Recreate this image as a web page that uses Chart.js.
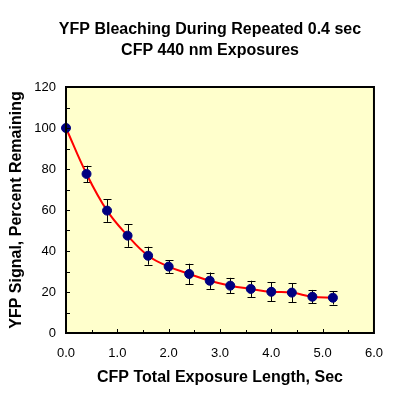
<!DOCTYPE html>
<html>
<head>
<meta charset="utf-8">
<script src="https://cdn.jsdelivr.net/npm/chart.js@4"></script>
<style>
  html,body{margin:0;padding:0;background:#fff}
  #wrap{width:396px;height:396px}
</style>
</head>
<body>
<div id="wrap"><canvas id="chart" width="396" height="396"></canvas></div>
<script>
// data
const exposureSec = [0, 0.4, 0.8, 1.2, 1.6, 2.0, 2.4, 2.8, 3.2, 3.6, 4.0, 4.4, 4.8, 5.2];
const signalPct   = [100, 77.6, 59.7, 47.5, 37.7, 32.4, 28.8, 25.5, 23.1, 21.5, 20.1, 19.7, 17.7, 17.2];
const signalErr   = [0, 4.0, 5.5, 5.5, 4.4, 3.1, 5.0, 4.0, 3.8, 4.0, 4.6, 4.6, 3.3, 3.3];
const titleLines  = ['YFP Bleaching During Repeated 0.4 sec', 'CFP 440 nm Exposures'];
const xTitle = 'CFP Total Exposure Length, Sec';
const yTitle = 'YFP Signal, Percent Remaining';

const FONT = 'Arial, "Liberation Sans", sans-serif';

// yellow plot background + box border + inward tick marks + error bars + title
const plotDecor = {
  id: 'plotDecor',
  beforeDraw(chart){
    const {ctx, chartArea:a} = chart;
    ctx.save();
    ctx.fillStyle = '#FFFFCC';
    ctx.fillRect(a.left, a.top, a.right - a.left, a.bottom - a.top);
    ctx.restore();
  },
  beforeDatasetsDraw(chart){
    const {ctx} = chart;
    const xs = chart.scales.x, ys = chart.scales.y;
    ctx.save();
    ctx.strokeStyle = '#000';
    ctx.lineWidth = 1;
    exposureSec.forEach((x, i)=>{
      const e = signalErr[i];
      if(!e) return;
      const px = Math.round(xs.getPixelForValue(x)) + 0.5;
      const top = ys.getPixelForValue(signalPct[i] + e);
      const bot = ys.getPixelForValue(signalPct[i] - e);
      ctx.beginPath();
      ctx.moveTo(px, top); ctx.lineTo(px, bot);
      ctx.moveTo(px - 4, Math.round(top) + 0.5); ctx.lineTo(px + 4, Math.round(top) + 0.5);
      ctx.moveTo(px - 4, Math.round(bot) + 0.5); ctx.lineTo(px + 4, Math.round(bot) + 0.5);
      ctx.stroke();
    });
    ctx.restore();
  },
  afterDraw(chart){
    const {ctx, chartArea:a} = chart;
    const xs = chart.scales.x, ys = chart.scales.y;
    ctx.save();
    ctx.strokeStyle = '#000';
    ctx.lineWidth = 1;
    ctx.beginPath();
    for(let v = 10; v < 120; v += 10){
      const py = Math.round(ys.getPixelForValue(v)) + 0.5;
      ctx.moveTo(a.left, py); ctx.lineTo(a.left + 4, py);
    }
    for(let v = 0.5; v < 6; v += 0.5){
      const px = Math.round(xs.getPixelForValue(v)) + 0.5;
      const len = (v % 1 === 0) ? 4 : 3;
      ctx.moveTo(px, a.bottom); ctx.lineTo(px, a.bottom - len);
    }
    ctx.stroke();
    ctx.lineWidth = 2;
    ctx.strokeRect(a.left, a.top, a.right - a.left, a.bottom - a.top);

    ctx.fillStyle = '#000';
    ctx.font = 'bold 16px ' + FONT;
    ctx.textAlign = 'center';
    ctx.textBaseline = 'alphabetic';
    ctx.fillText(titleLines[0], 210, 34);
    ctx.fillText(titleLines[1], 210, 55);
    ctx.restore();
  }
};

new Chart(document.getElementById('chart'), {
  type: 'line',
  data: {
    datasets: [{
      data: exposureSec.map((x, i)=>({x, y: signalPct[i]})),
      borderColor: '#FF0000',
      borderWidth: 2,
      tension: 0.4,
      pointStyle: 'circle',
      pointRadius: 4.5,
      pointBackgroundColor: '#000080',
      pointBorderColor: '#000080',
      pointBorderWidth: 1,
      clip: false
    }]
  },
  options: {
    responsive: false,
    animation: false,
    events: [],
    layout: {padding: {top: 87, right: 20, left: 0, bottom: 0}},
    plugins: {legend: {display: false}, tooltip: {enabled: false}, title: {display: false}},
    scales: {
      x: {
        type: 'linear', min: 0, max: 6,
        grid: {display: false, drawTicks: false},
        border: {display: false},
        afterFit(s){ s.height = 63; },
        ticks: {
          stepSize: 1, autoSkip: false, maxRotation: 0, padding: 13,
          color: '#000', font: {family: FONT, size: 13},
          callback: v => v.toFixed(1)
        },
        title: {display: true, text: xTitle, color: '#000',
          font: {family: FONT, size: 16, weight: 'bold'}, padding: {top: 0, bottom: 9}}
      },
      y: {
        min: 0, max: 120,
        grid: {display: false, drawTicks: false},
        border: {display: false},
        afterFit(s){ s.width = 66; },
        ticks: {
          stepSize: 20, autoSkip: false, padding: 10,
          color: '#000', font: {family: FONT, size: 13}
        },
        title: {display: true, text: yTitle, color: '#000',
          font: {family: FONT, size: 16, weight: 'bold'}, padding: {top: 7, bottom: 0}}
      }
    }
  },
  plugins: [plotDecor]
});
</script>
</body>
</html>
